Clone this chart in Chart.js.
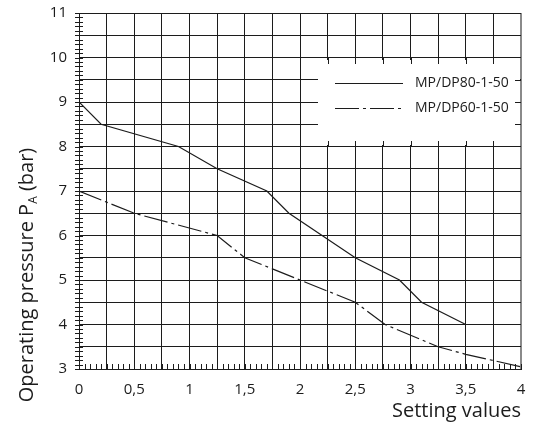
<!DOCTYPE html>
<html>
<head>
<meta charset="utf-8">
<script src="https://cdn.jsdelivr.net/npm/chart.js@4/dist/chart.umd.min.js"></script>
<style>
  html, body { margin: 0; padding: 0; background: #fff; }
  #wrap { width: 543px; height: 425px; }
</style>
</head>
<body>
<div id="wrap"><canvas id="pressureChart" width="543" height="425"></canvas></div>
<script>
// data
var seriesNames = ['MP/DP80-1-50', 'MP/DP60-1-50'];
var x80 = [0, 0.2, 0.9, 1.25, 1.7, 1.9, 2.5, 2.9, 3.1, 3.5];
var y80 = [9, 8.5, 8, 7.5, 7, 6.5, 5.5, 5, 4.5, 4];
var x60 = [0, 0.5, 1.25, 1.5, 2, 2.5, 2.77, 3.25, 3.5, 4];
var y60 = [7, 6.5, 6, 5.5, 5, 4.5, 4, 3.5, 3.33, 3.05];
var xTickLabels = ['0', '0,5', '1', '1,5', '2', '2,5', '3', '3,5', '4'];
var yTickLabels = ['3', '4', '5', '6', '7', '8', '9', '10', '11'];

var ink = '#1c1c1c';
var fontFam = '"Open Sans", "Noto Sans", sans-serif';
var dashDot = [24, 4, 3, 4];

function pts(xs, ys) {
  return xs.map(function(x, i) { return { x: x, y: ys[i] }; });
}

// white legend box sitting on the grid, with little ticks on its edges
var legendBox = {
  id: 'legendBox',
  beforeDatasetsDraw: function(chart) {
    var ctx = chart.ctx, xs = chart.scales.x, ys = chart.scales.y;
    var left = 318, right = Math.round(xs.getPixelForValue(4));
    var top = Math.round(ys.getPixelForValue(10)), bottom = Math.round(ys.getPixelForValue(8));
    ctx.save();
    ctx.fillStyle = '#fff';
    ctx.fillRect(left, top + 2, right - left - 1, bottom - top - 4);
    ctx.strokeStyle = ink;
    ctx.lineWidth = 1;
    ctx.beginPath();
    for (var v = 2.25; v < 4; v += 0.25) {
      var px = Math.round(xs.getPixelForValue(v)) + 0.5;
      ctx.moveTo(px, top); ctx.lineTo(px, top + 6);
      ctx.moveTo(px, bottom); ctx.lineTo(px, bottom - 6);
    }
    [8.5, 9, 9.5].forEach(function(v) {
      var py = Math.round(ys.getPixelForValue(v)) + 0.5;
      ctx.moveTo(right, py); ctx.lineTo(right - 6, py);
    });
    ctx.stroke();

    // minor ticks on the axes
    ctx.beginPath();
    for (var i = 0; i <= 80; i++) {
      var yv = 3 + i * 0.1;
      var py2 = Math.round(ys.getPixelForValue(yv)) + 0.5;
      ctx.moveTo(xs.left - 4, py2); ctx.lineTo(xs.left + 4, py2);
    }
    for (var j = 0; j <= 80; j++) {
      var xv = j * 0.05;
      var px2 = Math.round(xs.getPixelForValue(xv)) + 0.5;
      ctx.moveTo(px2, ys.bottom); ctx.lineTo(px2, ys.bottom - 5);
    }
    ctx.stroke();
    ctx.restore();
  },
  afterDatasetsDraw: function(chart) {
    var ctx = chart.ctx;
    ctx.save();
    ctx.strokeStyle = ink;
    ctx.lineWidth = 1.2;
    ctx.fillStyle = ink;
    ctx.font = '14px ' + fontFam;
    ctx.textBaseline = 'middle';
    chart.data.datasets.forEach(function(ds, k) {
      var yy = 83.5 + k * 25;
      ctx.setLineDash(ds.borderDash || []);
      ctx.beginPath();
      ctx.moveTo(335, yy); ctx.lineTo(403, yy);
      ctx.stroke();
      ctx.setLineDash([]);
      ctx.fillText(ds.label, 415, yy);
    });
    ctx.restore();
  }
};

// y title with the subscript A
var yTitle = {
  id: 'yTitle',
  afterDraw: function(chart) {
    var ctx = chart.ctx;
    var big = '20px ' + fontFam, small = '12px ' + fontFam;
    var a = 'Operating pressure P', s = 'A', b = ' (bar)';
    ctx.save();
    ctx.font = big;
    var wa = ctx.measureText(a).width, wb = ctx.measureText(b).width;
    ctx.font = small;
    var ws = ctx.measureText(s).width;
    var total = wa + ws + wb;
    ctx.translate(33, 275);
    ctx.rotate(-Math.PI / 2);
    ctx.fillStyle = ink;
    ctx.textBaseline = 'alphabetic';
    var x0 = -total / 2;
    ctx.font = big;
    ctx.fillText(a, x0, 0);
    ctx.font = small;
    ctx.fillText(s, x0 + wa, 4);
    ctx.font = big;
    ctx.fillText(b, x0 + wa + ws, 0);
    ctx.restore();
  }
};

function noEdgePadding(s) {
  s.paddingTop = 0;
  s.paddingBottom = 0;
  s.paddingLeft = 0;
  s.paddingRight = 0;
}

var ctx = document.getElementById('pressureChart').getContext('2d');
var chart = new Chart(ctx, {
  type: 'line',
  data: {
    datasets: [{
      label: seriesNames[0],
      data: pts(x80, y80),
      borderColor: ink,
      borderWidth: 1.2,
      pointRadius: 0,
      fill: false,
      tension: 0
    }, {
      label: seriesNames[1],
      data: pts(x60, y60),
      borderColor: ink,
      borderWidth: 1.2,
      borderDash: dashDot,
      pointRadius: 0,
      fill: false,
      tension: 0
    }]
  },
  options: {
    responsive: false,
    animation: false,
    layout: { padding: { top: 13, right: 22, left: 0, bottom: 0 } },
    plugins: { legend: { display: false }, tooltip: { enabled: false } },
    scales: {
      x: {
        type: 'linear',
        min: 0, max: 4,
        afterFit: function(s) { s.height = 56; noEdgePadding(s); },
        grid: {
          color: function(c) { return c.tick && c.tick.value === 4 ? '#8a8a8a' : ink; },
          lineWidth: function(c) { return c.tick && c.tick.value === 4 ? 2 : 1; },
          drawTicks: false
        },
        border: { color: ink, width: 1 },
        ticks: {
          stepSize: 0.25,
          autoSkip: false,
          maxRotation: 0,
          padding: 12,
          color: ink,
          font: { size: 15, family: fontFam },
          callback: function(v) {
            var k = Math.round(v * 2);
            return Math.abs(v * 2 - k) < 1e-6 ? xTickLabels[k] : '';
          }
        },
        title: {
          display: true,
          text: 'Setting values',
          align: 'end',
          color: ink,
          font: { size: 20, family: fontFam },
          padding: { top: 0, bottom: 2 }
        }
      },
      y: {
        type: 'linear',
        min: 3, max: 11,
        afterFit: function(s) { s.width = 79; noEdgePadding(s); },
        grid: { color: ink, lineWidth: 1, drawTicks: false },
        border: { color: ink, width: 1 },
        ticks: {
          stepSize: 0.5,
          autoSkip: false,
          padding: 12,
          color: ink,
          font: { size: 15, family: fontFam },
          callback: function(v) {
            return Number.isInteger(v) ? yTickLabels[v - 3] : '';
          }
        }
      }
    }
  },
  plugins: [legendBox, yTitle]
});
</script>
</body>
</html>
